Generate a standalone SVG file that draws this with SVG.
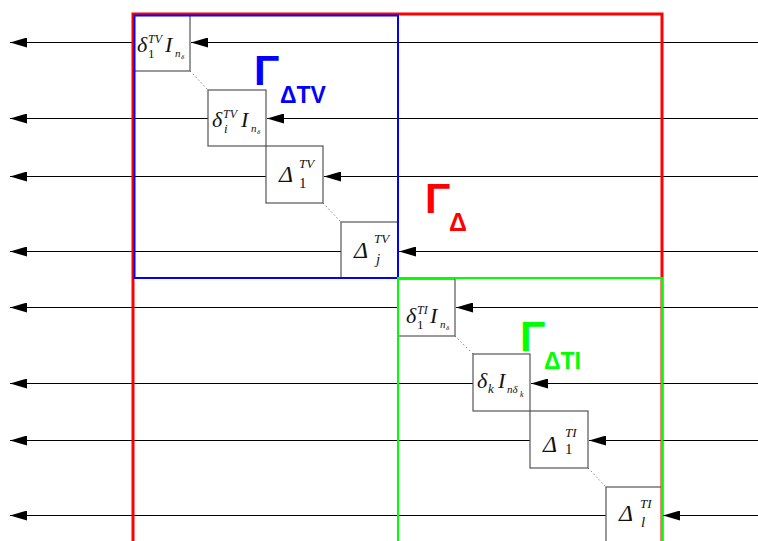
<svg xmlns="http://www.w3.org/2000/svg" width="758" height="541" viewBox="0 0 758 541">
<defs>
<marker id="ah" markerWidth="17" markerHeight="10" refX="17" refY="5" orient="auto" markerUnits="userSpaceOnUse"><path d="M0,0 L17,5 L0,10 Z" fill="#000"/></marker>
<style>
.ln{stroke:#000;stroke-width:1;fill:none}
.bx{fill:#fff;stroke:#555;stroke-width:1.2}
.dot{stroke:#444;stroke-width:1;stroke-dasharray:1,3}
.m{font-family:"Liberation Serif","DejaVu Serif",serif;font-style:italic;fill:#111}
.d{font-family:"Liberation Serif","DejaVu Serif",serif;font-style:italic;fill:#111}
.u{font-style:normal}
.g{font-family:"Liberation Sans",Arial,sans-serif;font-weight:bold}
</style>
</defs>
<rect width="758" height="541" fill="#fff"/>
<g id="connectors">
<line class="ln" x1="133" y1="42.5" x2="10" y2="42.5" marker-end="url(#ah)"/>
<line class="ln" x1="758" y1="42.5" x2="191" y2="42.5" marker-end="url(#ah)"/>
<line class="ln" x1="208" y1="118.5" x2="10" y2="118.5" marker-end="url(#ah)"/>
<line class="ln" x1="758" y1="118.5" x2="267" y2="118.5" marker-end="url(#ah)"/>
<line class="ln" x1="266" y1="176.5" x2="10" y2="176.5" marker-end="url(#ah)"/>
<line class="ln" x1="758" y1="176.5" x2="324" y2="176.5" marker-end="url(#ah)"/>
<line class="ln" x1="341" y1="251.5" x2="10" y2="251.5" marker-end="url(#ah)"/>
<line class="ln" x1="758" y1="251.5" x2="399" y2="251.5" marker-end="url(#ah)"/>
<line class="ln" x1="398" y1="307.5" x2="10" y2="307.5" marker-end="url(#ah)"/>
<line class="ln" x1="758" y1="307.5" x2="456" y2="307.5" marker-end="url(#ah)"/>
<line class="ln" x1="473" y1="383.5" x2="10" y2="383.5" marker-end="url(#ah)"/>
<line class="ln" x1="758" y1="383.5" x2="531" y2="383.5" marker-end="url(#ah)"/>
<line class="ln" x1="530" y1="440.5" x2="10" y2="440.5" marker-end="url(#ah)"/>
<line class="ln" x1="758" y1="440.5" x2="589" y2="440.5" marker-end="url(#ah)"/>
<line class="ln" x1="606" y1="515.5" x2="10" y2="515.5" marker-end="url(#ah)"/>
<line class="ln" x1="758" y1="515.5" x2="663" y2="515.5" marker-end="url(#ah)"/>
<line class="dot" x1="190" y1="71" x2="208" y2="90"/>
<line class="dot" x1="323" y1="203" x2="341" y2="222"/>
<line class="dot" x1="455" y1="336" x2="473" y2="354"/>
<line class="dot" x1="588" y1="468" x2="606" y2="487"/>
</g>
<g id="n1">
<rect class="bx" x="134" y="15" width="56" height="56"/>
<text class="m" x="137" y="52" font-size="22">δ</text>
<text class="m" x="148" y="43" font-size="12">TV</text>
<text class="m u" x="148" y="58" font-size="13">1</text>
<text class="m" x="165" y="52" font-size="22">I</text>
<text class="m" x="175" y="57" font-size="11">n</text>
<text class="m" x="181" y="59" font-size="7">δ</text>
</g>
<g id="n2">
<rect class="bx" x="208" y="90" width="58" height="56"/>
<text class="m" x="212" y="127" font-size="22">δ</text>
<text class="m" x="223" y="118" font-size="12">TV</text>
<text class="m" x="224" y="133" font-size="13">i</text>
<text class="m" x="241" y="127" font-size="22">I</text>
<text class="m" x="251" y="132" font-size="11">n</text>
<text class="m" x="257" y="134" font-size="7">δ</text>
</g>
<g id="n3">
<rect class="bx" x="266" y="146" width="57" height="57"/>
<text class="d" x="279" y="182" font-size="24">Δ</text>
<text class="m" x="299" y="168" font-size="13">TV</text>
<text class="m u" x="299" y="188" font-size="15">1</text>
</g>
<g id="n4">
<rect class="bx" x="341" y="222" width="57" height="56"/>
<text class="d" x="354" y="258" font-size="24">Δ</text>
<text class="m" x="374" y="243" font-size="13">TV</text>
<text class="m" x="376" y="264" font-size="15">j</text>
</g>
<g id="n5">
<rect class="bx" x="398" y="279" width="57" height="57"/>
<text class="m" x="406" y="323" font-size="22">δ</text>
<text class="m" x="417" y="314" font-size="12">TI</text>
<text class="m u" x="417" y="329" font-size="13">1</text>
<text class="m" x="430" y="323" font-size="22">I</text>
<text class="m" x="440" y="328" font-size="11">n</text>
<text class="m" x="446" y="330" font-size="7">δ</text>
</g>
<g id="n6">
<rect class="bx" x="473" y="354" width="57" height="57"/>
<text class="m" x="477" y="388" font-size="22">δ</text>
<text class="m" x="488" y="393" font-size="13">k</text>
<text class="m" x="498" y="388" font-size="22">I</text>
<text class="m" x="507" y="393" font-size="11">nδ</text>
<text class="m" x="520" y="397" font-size="8">k</text>
</g>
<g id="n7">
<rect class="bx" x="530" y="411" width="58" height="57"/>
<text class="d" x="543" y="452" font-size="24">Δ</text>
<text class="m" x="565" y="437" font-size="13">TI</text>
<text class="m u" x="565" y="454" font-size="15">1</text>
</g>
<g id="n8">
<rect class="bx" x="606" y="487" width="56" height="60"/>
<text class="d" x="619" y="521" font-size="24">Δ</text>
<text class="m" x="640" y="508" font-size="13">TI</text>
<text class="m" x="641" y="527" font-size="15">l</text>
</g>
<g id="frames">
<rect x="133" y="14" width="529" height="560" fill="none" stroke="#ff0000" stroke-width="3"/>
<rect x="134.5" y="15.5" width="263.5" height="262.5" fill="none" stroke="#0000ff" stroke-width="2"/>
<rect x="398" y="278" width="264" height="300" fill="none" stroke="#00ff00" stroke-width="2"/>
</g>
<g id="labels">
<text class="g" x="254" y="85" font-size="42" fill="#0000ff">Γ</text>
<text class="g" x="280" y="103" font-size="23" fill="#0000ff">ΔTV</text>
<text class="g" x="425" y="213" font-size="42" fill="#ff0000">Γ</text>
<text class="g" x="449" y="231" font-size="25" fill="#ff0000">Δ</text>
<text class="g" x="520" y="351" font-size="42" fill="#00ff00">Γ</text>
<text class="g" x="544" y="369" font-size="23" fill="#00ff00">ΔTI</text>
</g>
</svg>
